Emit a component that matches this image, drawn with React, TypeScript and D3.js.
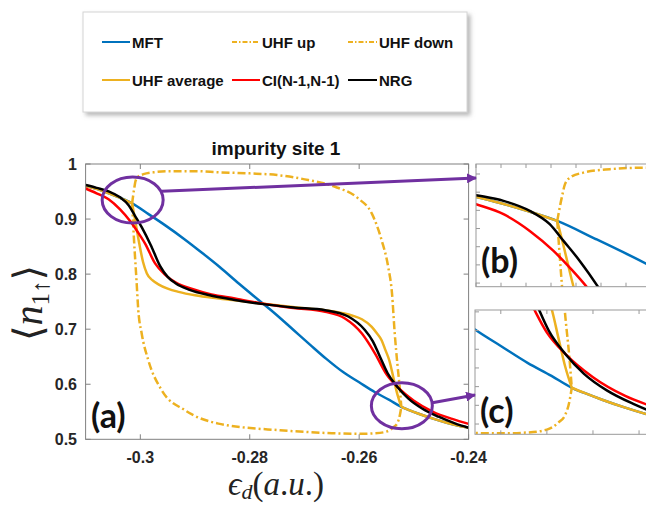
import React from "react";
import * as d3 from "d3";

type Pt = [number, number];

// occupation <n_1up> vs eps_d
const mft: Pt[] = [
  [-0.31, 0.9605], [-0.308, 0.9548], [-0.306, 0.9478], [-0.304, 0.9398], [-0.3015, 0.9284],
  [-0.2985, 0.909], [-0.2955, 0.889], [-0.292, 0.864], [-0.2885, 0.837], [-0.2855, 0.813],
  [-0.282, 0.783], [-0.2785, 0.754], [-0.2754, 0.7285], [-0.272, 0.6985], [-0.269, 0.672],
  [-0.266, 0.646], [-0.263, 0.6225], [-0.26, 0.6035], [-0.2571, 0.5855], [-0.2545, 0.5715],
  [-0.2523, 0.5588], [-0.251, 0.5535], [-0.249, 0.546], [-0.2465, 0.5375], [-0.244, 0.53],
  [-0.242, 0.525], [-0.24, 0.521],
];

const uhfUp: Pt[] = [
  [-0.3015, 0.9284], [-0.30114, 0.954], [-0.30088, 0.9688], [-0.30048, 0.976], [-0.29942, 0.9815],
  [-0.29728, 0.9853], [-0.2944, 0.987], [-0.29, 0.987], [-0.2857, 0.985], [-0.28, 0.983],
  [-0.275, 0.98], [-0.2693, 0.9709], [-0.2644, 0.9587], [-0.2602, 0.9376], [-0.2577, 0.9103],
  [-0.2559, 0.8618], [-0.2547, 0.8133], [-0.254, 0.7649], [-0.2535, 0.6921], [-0.253, 0.635],
  [-0.25255, 0.59], [-0.2523, 0.5588],
];

const uhfDown: Pt[] = [
  [-0.3015, 0.9284], [-0.30115, 0.8618], [-0.3007, 0.7891], [-0.30037, 0.7345], [-0.29975, 0.6922],
  [-0.29854, 0.6436], [-0.29609, 0.5891], [-0.29183, 0.5527], [-0.28574, 0.5285], [-0.27447, 0.5164],
  [-0.27, 0.5135], [-0.265, 0.511], [-0.26, 0.51], [-0.257, 0.511], [-0.255, 0.514],
  [-0.2537, 0.522], [-0.253, 0.53], [-0.25255, 0.5444], [-0.2523, 0.5588],
];

// UHF average inside the broken-symmetry window (outside it equals MFT)
const uhfAvg: Pt[] = [
  [-0.3015, 0.9284], [-0.301, 0.901], [-0.3002, 0.856], [-0.2995, 0.822], [-0.2988, 0.8013],
  [-0.2978, 0.789], [-0.2967, 0.7815], [-0.295, 0.7738], [-0.293, 0.7678], [-0.29, 0.7615],
  [-0.286, 0.756], [-0.282, 0.7515], [-0.2775, 0.746], [-0.273, 0.741], [-0.269, 0.737],
  [-0.266, 0.734], [-0.263, 0.729], [-0.2612, 0.7245], [-0.2595, 0.718], [-0.2577, 0.7042],
  [-0.2568, 0.693], [-0.2559, 0.68], [-0.2552, 0.662], [-0.2545, 0.6436], [-0.2537, 0.61],
  [-0.253, 0.581], [-0.2523, 0.5588],
];

const ci: Pt[] = [
  [-0.31, 0.9555], [-0.308, 0.9468], [-0.3058, 0.9358], [-0.3037, 0.9174], [-0.3018, 0.8954],
  [-0.3005, 0.877], [-0.2991, 0.855], [-0.2973, 0.8194], [-0.2955, 0.799], [-0.2935, 0.7845],
  [-0.2905, 0.773], [-0.287, 0.763], [-0.2827, 0.7558], [-0.2775, 0.746], [-0.272, 0.7385],
  [-0.2662, 0.7315], [-0.2626, 0.7194], [-0.2595, 0.6921], [-0.2571, 0.6558], [-0.255, 0.618],
  [-0.253, 0.595], [-0.25, 0.57], [-0.2465, 0.55], [-0.243, 0.537], [-0.24, 0.528],
];

const nrg: Pt[] = [
  [-0.31, 0.9618], [-0.308, 0.9567], [-0.3058, 0.9504], [-0.3037, 0.9394], [-0.3021, 0.9248],
  [-0.301, 0.9064], [-0.2997, 0.8844], [-0.2981, 0.853], [-0.2964, 0.815], [-0.295, 0.795],
  [-0.2935, 0.783], [-0.291, 0.7715], [-0.2875, 0.762], [-0.283, 0.7535], [-0.2775, 0.7455],
  [-0.272, 0.7395], [-0.2662, 0.7345], [-0.262, 0.723], [-0.259, 0.699], [-0.2575, 0.678],
  [-0.2562, 0.65], [-0.2548, 0.62], [-0.253, 0.595], [-0.251, 0.574], [-0.2485, 0.556],
  [-0.2455, 0.541], [-0.2425, 0.529], [-0.24, 0.521],
];

const kinks: Pt[] = [[-0.3015, 0.9284], [-0.2523, 0.5588]];
const zoomSpots: Pt[] = [[-0.3014, 0.9345], [-0.2522, 0.561]];

const xTicks = [-0.3, -0.28, -0.26, -0.24];
const xTickLabels = ["-0.3", "-0.28", "-0.26", "-0.24"];
const yTicks = [0.5, 0.6, 0.7, 0.8, 0.9, 1];
const yTickLabels = ["0.5", "0.6", "0.7", "0.8", "0.9", "1"];

const legendLabels = ["MFT", "UHF up", "UHF down", "UHF average", "CI(N-1,N-1)", "NRG"];

const BLUE = "#0072BD";
const ORANGE = "#EDB120";
const RED = "#FF0000";
const PURPLE = "#7030A0";
const DASHDOT = "8,3,2,3";
const SANS = "'Liberation Sans', Arial, sans-serif";
const SERIF = "'Liberation Serif', 'DejaVu Serif', serif";

type Scale = d3.ScaleLinear<number, number>;

function Curves({ x, y }: { x: Scale; y: Scale }) {
  const line = d3.line<Pt>().x(d => x(d[0])).y(d => y(d[1])).curve(d3.curveMonotoneX);
  const left = mft.filter(d => d[0] <= kinks[0][0]);
  const right = mft.filter(d => d[0] >= kinks[1][0]);
  const w = 2.5;
  return (
    <g fill="none" strokeLinejoin="round">
      <path d={line(mft) || ""} stroke={BLUE} strokeWidth={w} />
      <path d={line(uhfUp) || ""} stroke={ORANGE} strokeWidth={w} strokeDasharray={DASHDOT} />
      <path d={line(uhfDown) || ""} stroke={ORANGE} strokeWidth={w} strokeDasharray={DASHDOT} />
      <path d={line(left) || ""} stroke={ORANGE} strokeWidth={w} />
      <path d={line(uhfAvg) || ""} stroke={ORANGE} strokeWidth={w} />
      <path d={line(right) || ""} stroke={ORANGE} strokeWidth={w} />
      <path d={line(ci) || ""} stroke={RED} strokeWidth={w} />
      <path d={line(nrg) || ""} stroke="#000" strokeWidth={w} />
    </g>
  );
}

function Inset({ id, x, y, label, labelY }: { id: string; x: Scale; y: Scale; label: string; labelY: number }) {
  const [x0, x1] = x.range();
  const [y0, y1] = y.range();
  const xt = x.ticks(id === "b" ? 8 : 4);
  const yt = y.ticks(6);
  return (
    <g>
      <defs>
        <clipPath id={`clip-${id}`}>
          <rect x={x0} y={y1} width={x1 - x0} height={y0 - y1} />
        </clipPath>
      </defs>
      <rect x={x0} y={y1} width={x1 - x0} height={y0 - y1} fill="#fff" />
      <g clipPath={`url(#clip-${id})`}>
        <Curves x={x} y={y} />
      </g>
      <rect x={x0} y={y1} width={x1 - x0} height={y0 - y1} fill="none" stroke="#999" strokeWidth={1} />
      <g stroke="#999" strokeWidth={1}>
        {xt.map((t, i) => (
          <g key={i}>
            <line x1={x(t)} x2={x(t)} y1={y1} y2={y1 + 4} />
            <line x1={x(t)} x2={x(t)} y1={y0} y2={y0 - 4} />
          </g>
        ))}
        {yt.map((t, i) => (
          <line key={i} x1={x0} x2={x0 + 4} y1={y(t)} y2={y(t)} />
        ))}
      </g>
      <text x={x0 + 5} y={labelY} fontFamily="Lato, 'Open Sans', sans-serif" fontWeight="bold" fontSize={34} fill="#111">
        {label}
      </text>
    </g>
  );
}

export default function App() {
  const W = 646, H = 506;
  const x = d3.scaleLinear().domain([-0.31, -0.24]).range([85.6, 468.6]);
  const y = d3.scaleLinear().domain([0.5, 1]).range([439.3, 164]);
  const [px0, px1] = x.range();
  const [py0, py1] = y.range();

  const xB = d3.scaleLinear().domain([-0.308, -0.292]).range([476, 676]);
  const yB = d3.scaleLinear().domain([0.856, 0.991]).range([286.7, 164]);
  const xC = d3.scaleLinear().domain([-0.2628, -0.2411]).range([475, 675]);
  const yC = d3.scaleLinear().domain([0.509, 0.642]).range([434.3, 310]);

  // legend layout
  const rows = [42, 80];
  const cols = [
    { l0: 102, l1: 130, tx: 132 },
    { l0: 232, l1: 260, tx: 262 },
    { l0: 348, l1: 377, tx: 379 },
  ];
  const legendStyle = [
    { c: BLUE, dash: undefined },
    { c: ORANGE, dash: "5,2,1.5,2" },
    { c: ORANGE, dash: "5,2,1.5,2" },
    { c: ORANGE, dash: undefined },
    { c: RED, dash: undefined },
    { c: "#000", dash: undefined },
  ];

  const ellRx = 30.5, ellRy = 23;
  const eB = { cx: x(zoomSpots[0][0]), cy: y(zoomSpots[0][1]) };
  const eC = { cx: x(zoomSpots[1][0]), cy: y(zoomSpots[1][1]) };

  return (
    <svg width={W} height={H} style={{ position: "absolute", left: 0, top: 0, background: "#fff" }}>
      <defs>
        <filter id="shadow" x="-5%" y="-10%" width="115%" height="130%">
          <feDropShadow dx="3" dy="3" stdDeviation="2" floodColor="#888" floodOpacity="0.6" />
        </filter>
        <marker id="arrow" viewBox="0 0 10 10" refX="9" refY="5" markerWidth="10" markerHeight="10"
          markerUnits="userSpaceOnUse" orient="auto">
          <path d="M0,0 L10,5 L0,10 z" fill={PURPLE} />
        </marker>
        <clipPath id="clip-main">
          <rect x={px0} y={py1} width={px1 - px0} height={py0 - py1} />
        </clipPath>
      </defs>

      {/* Legend */}
      <rect x={83} y={12} width={384} height={100} fill="#fff" stroke="#d4d4d4" filter="url(#shadow)" />
      {legendLabels.map((lab, i) => {
        const r = rows[Math.floor(i / 3)];
        const c = cols[i % 3];
        const s = legendStyle[i];
        return (
          <g key={lab}>
            <line x1={c.l0} x2={c.l1} y1={r} y2={r} stroke={s.c} strokeWidth={2} strokeDasharray={s.dash} />
            <text x={c.tx} y={r + 5.5} fontFamily={SANS} fontWeight="bold" fontSize={15} fill="#111">{lab}</text>
          </g>
        );
      })}

      {/* Main axes */}
      <text x={276} y={155} textAnchor="middle" fontFamily={SANS} fontWeight="bold" fontSize={19} fill="#111">
        impurity site 1
      </text>
      <rect x={px0} y={py1} width={px1 - px0} height={py0 - py1} fill="#fff" />
      <g clipPath="url(#clip-main)">
        <Curves x={x} y={y} />
      </g>
      <rect x={px0} y={py1} width={px1 - px0} height={py0 - py1} fill="none" stroke="#808080" strokeWidth={1} />
      <g stroke="#808080" strokeWidth={1}>
        {xTicks.map((t, i) => (
          <g key={i}>
            <line x1={x(t)} x2={x(t)} y1={py0} y2={py0 - 5} />
            <line x1={x(t)} x2={x(t)} y1={py1} y2={py1 + 5} />
          </g>
        ))}
        {yTicks.map((t, i) => (
          <g key={i}>
            <line x1={px0} x2={px0 + 5} y1={y(t)} y2={y(t)} />
            <line x1={px1} x2={px1 - 5} y1={y(t)} y2={y(t)} />
          </g>
        ))}
      </g>
      <g fontFamily={SANS} fontWeight="bold" fontSize={16} fill="#262626">
        {xTicks.map((t, i) => (
          <text key={i} x={x(t)} y={463} textAnchor="middle">{xTickLabels[i]}</text>
        ))}
        {yTicks.map((t, i) => (
          <text key={i} x={77} y={y(t) + 6} textAnchor="end">{yTickLabels[i]}</text>
        ))}
      </g>
      <text x={91} y={428} fontFamily="Lato, 'Open Sans', sans-serif" fontWeight="bold" fontSize={34} fill="#111">(a)</text>

      {/* Axis labels */}
      <text x={276} y={495} textAnchor="middle" fontFamily={SERIF} fontSize={33} fill="#222">
        <tspan fontStyle="italic">ϵ</tspan>
        <tspan fontStyle="italic" fontSize={22} dy={4}>d</tspan>
        <tspan dy={-4}>(</tspan>
        <tspan fontStyle="italic">a</tspan>
        <tspan>.</tspan>
        <tspan fontStyle="italic">u</tspan>
        <tspan>.)</tspan>
      </text>
      <text transform="translate(42,303) rotate(-90)" textAnchor="middle" fontFamily={SERIF} fontSize={40} fill="#222">
        <tspan>⟨</tspan>
        <tspan fontStyle="italic">n</tspan>
        <tspan fontSize={25} dy={7}>1↑</tspan>
        <tspan dy={-7}>⟩</tspan>
      </text>

      {/* Insets */}
      <Inset id="b" x={xB} y={yB} label="(b)" labelY={273} />
      <Inset id="c" x={xC} y={yC} label="(c)" labelY={423} />

      {/* Zoom markers */}
      <g fill="none" stroke={PURPLE} strokeWidth={3}>
        <ellipse cx={eB.cx} cy={eB.cy} rx={ellRx} ry={ellRy} />
        <ellipse cx={eC.cx} cy={eC.cy} rx={ellRx} ry={ellRy} />
        <line x1={eB.cx + ellRx * 0.95} y1={eB.cy - ellRy * 0.38} x2={476} y2={178} markerEnd="url(#arrow)" />
        <line x1={eC.cx + ellRx} y1={eC.cy - 3} x2={475} y2={395} markerEnd="url(#arrow)" />
      </g>
    </svg>
  );
}
